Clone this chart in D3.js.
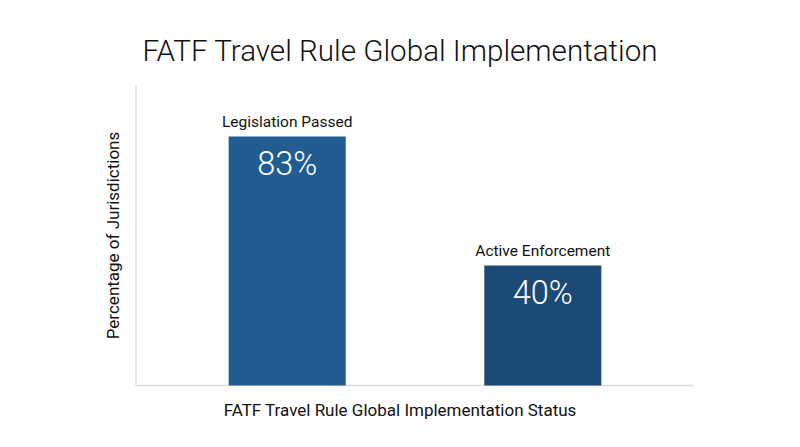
<!DOCTYPE html>
<html>
<head>
<meta charset="utf-8">
<title>FATF Travel Rule Global Implementation</title>
<script src="https://cdn.jsdelivr.net/npm/d3@7"></script>
<style>
  body { margin: 0; background: #fff; }
  svg text { font-family: Roboto, "Noto Sans", sans-serif; }
</style>
</head>
<body>
<div id="chart"></div>
<script>
var categories = ["Legislation Passed", "Active Enforcement"];
var values = [83, 40];
var barColors = ["#215d90", "#1c4a77"];

var width = 800, height = 447;
var plotLeft = 136, plotRight = 694, plotTop = 85.5, plotBottom = 385.5;

var svg = d3.select("#chart").append("svg")
  .attr("width", width).attr("height", height);

var x = d3.scaleBand().domain(categories).range([plotLeft, plotRight])
  .paddingInner(0.542).paddingOuter(0.3625);
var y = d3.scaleLinear().domain([0, 100]).range([plotBottom, plotTop]);

// title
svg.append("text").attr("x", 400).attr("y", 61)
  .attr("text-anchor", "middle").attr("font-size", 29.6).attr("font-weight", 300)
  .attr("fill", "#111").text("FATF Travel Rule Global Implementation");

// axes lines
svg.append("line").attr("x1", plotLeft).attr("x2", plotLeft).attr("y1", plotTop).attr("y2", plotBottom)
  .attr("stroke", "#dcdcdc").attr("stroke-width", 1.5);
svg.append("line").attr("x1", plotLeft).attr("x2", plotRight).attr("y1", plotBottom).attr("y2", plotBottom)
  .attr("stroke", "#dcdcdc").attr("stroke-width", 1.5);

// bars
svg.selectAll("rect.bar").data(values).enter().append("rect")
  .attr("class", "bar")
  .attr("x", function(d, i){ return x(categories[i]); })
  .attr("y", function(d){ return y(d); })
  .attr("width", x.bandwidth())
  .attr("height", function(d){ return y(0) - y(d); })
  .attr("fill", function(d, i){ return barColors[i]; });

// category labels above bars
svg.selectAll("text.cat").data(values).enter().append("text")
  .attr("class", "cat")
  .attr("x", function(d, i){ return x(categories[i]) + x.bandwidth() / 2; })
  .attr("y", function(d){ return y(d) - 10; })
  .attr("text-anchor", "middle").attr("font-size", 15.5).attr("fill", "#111")
  .text(function(d, i){ return categories[i]; });

// value labels inside bars
svg.selectAll("text.val").data(values).enter().append("text")
  .attr("class", "val")
  .attr("x", function(d, i){ return x(categories[i]) + x.bandwidth() / 2; })
  .attr("y", function(d){ return y(d) + 38; })
  .attr("text-anchor", "middle").attr("font-size", 32.5).attr("font-weight", 300)
  .attr("fill", "#fff")
  .text(function(d){ return d + "%"; });

// axis titles
svg.append("text").attr("x", 400).attr("y", 416)
  .attr("text-anchor", "middle").attr("font-size", 17).attr("fill", "#111")
  .text("FATF Travel Rule Global Implementation Status");
svg.append("text")
  .attr("transform", "translate(119," + ((plotTop + plotBottom) / 2) + ") rotate(-90)")
  .attr("text-anchor", "middle").attr("font-size", 17).attr("fill", "#111")
  .text("Percentage of Jurisdictions");
</script>
</body>
</html>
